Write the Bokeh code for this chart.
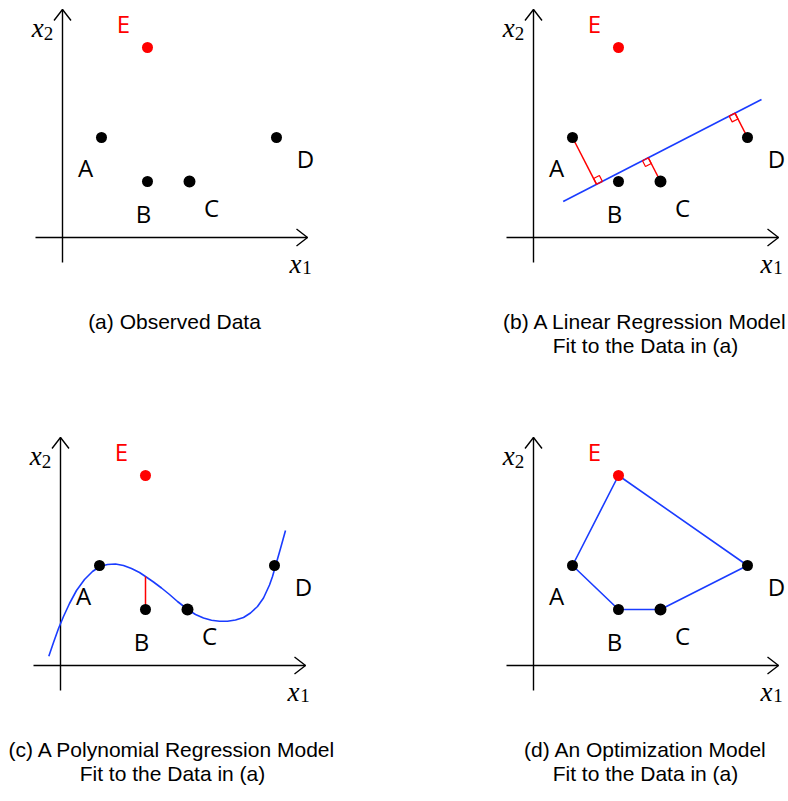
import numpy as np
from bokeh.plotting import figure
from bokeh.layouts import gridplot
from bokeh.models import Range1d
from bokeh.embed import file_html
from bokeh.resources import INLINE
from bokeh.core.properties import value

# ---------------- data ----------------
names = ["A", "B", "C", "D", "E"]
x1 = [3.9, 8.5, 12.7, 21.4, 8.5]
x2 = [10.0, 5.6, 5.6, 10.0, 19.0]

# (b) linear model, end points
lin_x1 = [2.97, 22.8]
lin_x2 = [3.6, 13.8]
lin_residual_points = ["A", "C", "D"]

# (c) polynomial model
poly_x1 = [-1.17, -0.7, -0.2, 0.3, 0.9, 1.6, 2.4, 3.2, 3.93, 4.7, 5.5, 6.3, 7.1,
           7.9, 8.5, 9.3, 10.1, 10.9, 11.7, 12.73, 13.5, 14.3, 15.1, 15.9, 16.7,
           17.5, 18.3, 19.0, 19.7, 20.3, 20.9, 21.2, 21.5, 22.0, 22.5]
poly_x2 = [0.93, 2.3, 3.7, 4.9, 6.2, 7.5, 8.6, 9.4, 9.9, 10.1, 10.15, 10.0, 9.7,
           9.3, 8.9, 8.35, 7.75, 7.1, 6.4, 5.6, 5.1, 4.75, 4.52, 4.42, 4.43,
           4.55, 4.8, 5.25, 5.9, 6.75, 8.05, 8.9, 9.95, 11.7, 13.5]
poly_residual_points = ["B"]

# (d) optimization model outline
hull_order = ["A", "E", "D", "C", "B", "A"]

captions = {
    "a": ["(a) Observed Data"],
    "b": ["(b) A Linear Regression Model", "Fit to the Data in (a)"],
    "c": ["(c) A Polynomial Regression Model", "Fit to the Data in (a)"],
    "d": ["(d) An Optimization Model", "Fit to the Data in (a)"],
}

# ---------------- styles ----------------
BLUE = "#1a3cff"
RED = "#ff0000"
BLACK = "#000000"
point_colors = [BLACK, BLACK, BLACK, BLACK, RED]
point_sizes = [11, 11, 12, 11, 11]
label_dx = [-1.6, -0.4, 2.2, 2.9, -2.4]
label_dy = [-3.0, -3.2, -2.6, -2.1, 2.4]
label_colors = [BLACK, BLACK, BLACK, BLACK, RED]

SCALE = 10.0  # pixels per unit
idx = {n: i for i, n in enumerate(names)}


def make_panel(w, h, ox, oy, key):
    p = figure(width=w, height=h,
               x_range=Range1d(-ox / SCALE, (w - ox) / SCALE),
               y_range=Range1d(-(h - oy) / SCALE, oy / SCALE),
               toolbar_location=None, output_backend="svg",
               x_axis_location=None, y_axis_location=None,
               min_border=0, outline_line_color=None)
    p.grid.visible = False
    p.background_fill_color = "white"
    p.border_fill_color = "white"

    # axes with open arrow heads
    x_lo, x_hi = -2.7, 24.5
    y_lo, y_hi = -2.5, 22.8
    p.segment(x0=[x_lo, 0], y0=[0, y_lo], x1=[x_hi, 0], y1=[0, y_hi],
              line_color=BLACK, line_width=1.4)
    hl, hw = 1.1, 0.85
    p.multi_line(xs=[[x_hi - hl, x_hi, x_hi - hl], [-hw, 0, hw]],
                 ys=[[hw, 0, -hw], [y_hi - hl, y_hi, y_hi - hl]],
                 line_color=BLACK, line_width=1.4)
    # axis labels
    p.text(x=[-2.47, 23.3], y=[20.97, -2.6], text=["x", "x"],
           text_font=value("Liberation Serif"), text_font_style="italic",
           text_font_size="27px", text_align="center", text_baseline="middle",
           text_color=BLACK)
    p.text(x=[-1.4, 24.45], y=[20.45, -2.98], text=["2", "1"],
           text_font=value("Liberation Serif"),
           text_font_size="19px", text_align="center", text_baseline="middle",
           text_color=BLACK)

    # captions
    cap = captions[key]
    p.text(x=[11.2] * len(cap), y=[-8.4, -10.8][:len(cap)], text=cap,
           text_font=value("Liberation Sans"), text_font_size="21px",
           text_align="center", text_baseline="middle", text_color=BLACK)
    return p


def draw_points(p):
    p.scatter(x=x1, y=x2, size=point_sizes, fill_color=point_colors,
              line_color=point_colors, line_width=0)
    p.text(x=[a + b for a, b in zip(x1, label_dx)],
           y=[a + b for a, b in zip(x2, label_dy)],
           text=names, text_color=label_colors,
           text_font=value("Open Sans"), text_font_size="24px",
           text_align="center", text_baseline="middle")


# ---- (a)
pa = make_panel(471, 428, 62, 237, "a")
draw_points(pa)

# ---- (b)
pb = make_panel(317, 428, 62, 237, "b")
pb.line(x=lin_x1, y=lin_x2, line_color=BLUE, line_width=1.6)
P0 = np.array([lin_x1[0], lin_x2[0]])
u = np.array([lin_x1[1] - lin_x1[0], lin_x2[1] - lin_x2[0]])
u = u / np.linalg.norm(u)
sq = 0.65
side = {"A": 1, "C": -1, "D": -1}
for n in lin_residual_points:
    P = np.array([x1[idx[n]], x2[idx[n]]])
    t = np.dot(P - P0, u)
    F = P0 + t * u
    nv = (P - F) / np.linalg.norm(P - F)
    pb.line(x=[P[0], F[0]], y=[P[1], F[1]], line_color=RED, line_width=1.5)
    d = side[n] * u
    c1 = F + sq * d
    c2 = F + sq * d + sq * nv
    c3 = F + sq * nv
    pb.line(x=[F[0], c1[0], c2[0], c3[0], F[0]],
            y=[F[1], c1[1], c2[1], c3[1], F[1]],
            line_color=RED, line_width=1.2)
draw_points(pb)

# ---- (c)
pc = make_panel(471, 373, 60, 237, "c")
pc.line(x=poly_x1, y=poly_x2, line_color=BLUE, line_width=1.6, line_join="round")
for n in poly_residual_points:
    bx, by = x1[idx[n]], x2[idx[n]]
    top = float(np.interp(bx, poly_x1, poly_x2))
    pc.line(x=[bx, bx], y=[by, top], line_color=RED, line_width=1.5)
draw_points(pc)

# ---- (d)
pd_ = make_panel(317, 373, 62, 237, "d")
pd_.line(x=[x1[idx[n]] for n in hull_order], y=[x2[idx[n]] for n in hull_order],
         line_color=BLUE, line_width=1.6)
draw_points(pd_)

grid = gridplot([[pa, pb], [pc, pd_]], toolbar_location=None)

open("out.html", "w").write(file_html(grid, INLINE))
